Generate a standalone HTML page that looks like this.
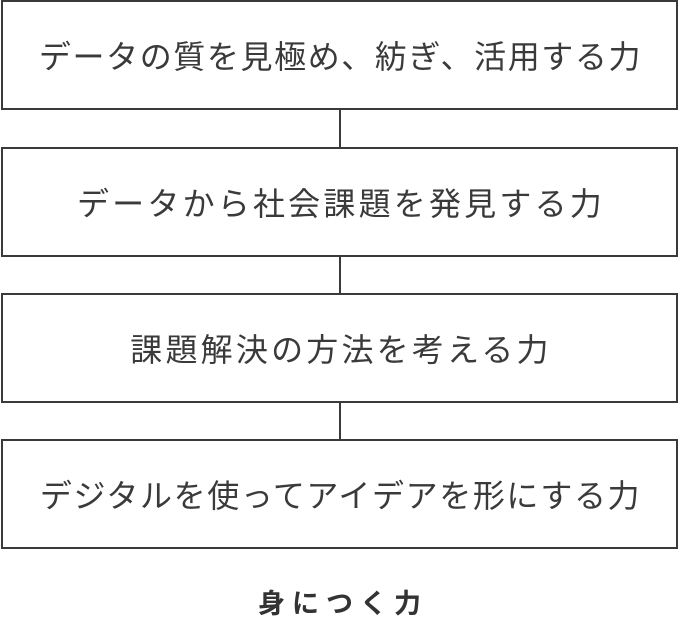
<!DOCTYPE html>
<html><head><meta charset="utf-8"><style>
html,body{margin:0;padding:0;background:#fff;}
body{width:679px;height:618px;position:relative;overflow:hidden;font-family:"Liberation Sans","Noto Sans CJK JP",sans-serif;}
.b{position:absolute;left:1px;width:677px;height:110px;box-sizing:border-box;border:2px solid #3a3a3a;display:flex;align-items:center;justify-content:center;font-size:32px;letter-spacing:1.6px;color:#3a3a3a;padding-left:2px;}
.w{letter-spacing:3.2px;padding-left:3px;}
.l{position:absolute;left:339px;width:2px;background:#3a3a3a;}
.t{position:absolute;left:0;width:679px;top:582px;text-align:center;font-size:27px;font-weight:bold;color:#333;letter-spacing:7px;padding-left:7px;box-sizing:border-box;}
</style></head><body>
<div class="b" style="top:0px;">データの質を見極め、紡ぎ、活用する力</div>
<div class="l" style="top:110px;height:38px;"></div>
<div class="b w" style="top:147px;">データから社会課題を発見する力</div>
<div class="l" style="top:257px;height:36px;"></div>
<div class="b w" style="top:293px;">課題解決の方法を考える力</div>
<div class="l" style="top:403px;height:37px;"></div>
<div class="b" style="top:439px;">デジタルを使ってアイデアを形にする力</div>
<div class="t">身につく力</div>
</body></html>
